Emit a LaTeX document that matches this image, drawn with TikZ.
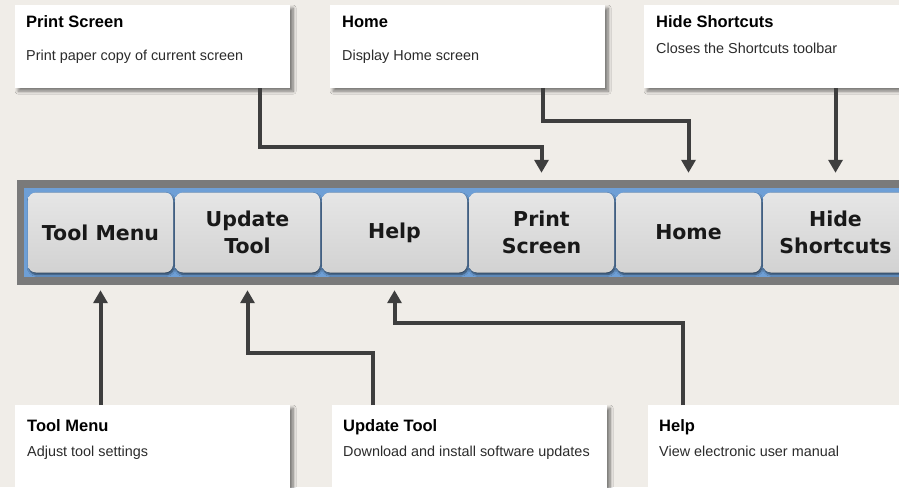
\documentclass[tikz,border=0pt]{standalone}
\usepackage{fontspec}
\setmainfont{Liberation Sans}
\newfontfamily\btnfont{DejaVu Sans}
\usetikzlibrary{arrows.meta,shadows.blur,calc}
\definecolor{bg}{HTML}{F0EDE8}
\definecolor{arrowc}{HTML}{3E3E3E}
\definecolor{barc}{HTML}{7A7A7A}
\definecolor{barblue}{HTML}{6E9FD6}
\definecolor{btntop}{HTML}{E6E6E6}
\definecolor{btnbot}{HTML}{D2D2D2}
\definecolor{bodyc}{HTML}{2B2B2B}
\tikzset{
  infobox/.style={draw=none, fill=white, minimum width=275pt, minimum height=83pt,
    anchor=north west, inner sep=0pt,
    blur shadow={shadow xshift=3pt, shadow yshift=-3pt, shadow blur radius=3pt, shadow blur steps=12, shadow opacity=50}},
  lowbox/.style={infobox, minimum height=100pt},
  boxtitle/.style={anchor=base west, inner sep=0pt, font=\fontsize{16.5}{18}\selectfont\bfseries, text=black},
  boxbody/.style={anchor=base west, inner sep=0pt, font=\fontsize{14.4}{16}\selectfont, text=bodyc},
  toolbar/.style={draw=none, fill=barc, minimum width=893pt, minimum height=105pt, inner sep=0pt},
  barinner/.style={draw=none, fill=barblue, minimum width=886pt, minimum height=89pt, inner sep=0pt},
  btn/.style={draw=none, top color=btntop, bottom color=btnbot, rounded corners=8pt,
    minimum width=145pt, minimum height=80pt, inner sep=0pt, align=center,
    font=\btnfont\bfseries\fontsize{20.5}{27}\selectfont, text=black!90,
    blur shadow={shadow xshift=1pt, shadow yshift=-2pt, shadow blur radius=2pt, shadow blur steps=8, shadow opacity=60}},
  conn/.style={draw=arrowc, line width=4pt, -{Triangle[width=14pt,length=13pt]}},
}
\begin{document}
\begin{tikzpicture}[x=1pt,y=-1pt]
  \fill[bg] (0,0) rectangle (899,487);
  \useasboundingbox (0,0) rectangle (899,487);
  \clip (0,0) rectangle (899,487);

  % top info boxes
  \node[infobox] (boxPS) at (15,5) {};
  \node[boxtitle] (tPS) at (26,28) {Print Screen};
  \node[boxbody] (dPS) at (26,61) {Print paper copy of current screen};

  \node[infobox] (boxHO) at (330,5) {};
  \node[boxtitle] (tHO) at (342,28) {Home};
  \node[boxbody] (dHO) at (342,61) {Display Home screen};

  \node[infobox] (boxHS) at (644,5) {};
  \node[boxtitle] (tHS) at (656,28) {Hide Shortcuts};
  \node[boxbody] (dHS) at (656,54) {Closes the Shortcuts toolbar};

  % bottom info boxes
  \node[lowbox] (boxTM) at (15,405) {};
  \node[boxtitle] (tTM) at (27,431) {Tool Menu};
  \node[boxbody] (dTM) at (27,456) {Adjust tool settings};

  \node[lowbox] (boxUT) at (332,405) {};
  \node[boxtitle] (tUT) at (343,431) {Update Tool};
  \node[boxbody] (dUT) at (343,456) {Download and install software updates};

  \node[lowbox] (boxHE) at (648,405) {};
  \node[boxtitle] (tHE) at (659,431) {Help};
  \node[boxbody] (dHE) at (659,456) {View electronic user manual};

  % toolbar
  \node[toolbar] (bar) at (463.5,232.5) {};
  \node[barinner] (inner) at (467,232.5) {};

  \node[btn] (bTM) at (100.5,232.5) {Tool Menu};
  \node[btn] (bUT) at (247.5,232.5) {Update\\Tool};
  \node[btn] (bHE) at (394.5,232.5) {Help};
  \node[btn] (bPS) at (541.5,232.5) {Print\\Screen};
  \node[btn] (bHO) at (688.5,232.5) {Home};
  \node[btn] (bHS) at (835.5,232.5) {Hide\\Shortcuts};

  % arrow tips
  \coordinate (tipPS) at ($(bPS.center |- bar.north)+(0,-7)$);
  \coordinate (tipHO) at ($(bHO.center |- bar.north)+(0,-7)$);
  \coordinate (tipHS) at ($(bHS.center |- bar.north)+(0,-7)$);
  \coordinate (tipTM) at ($(bTM.center |- bar.south)+(0,5)$);
  \coordinate (tipUT) at ($(bUT.center |- bar.south)+(0,5)$);
  \coordinate (tipHE) at ($(bHE.center |- bar.south)+(0,5)$);

  % connectors from top boxes
  \draw[conn] (boxPS.south -| 260,0) |- (tipPS |- 0,147) -- (tipPS);
  \draw[conn] (boxHO.south -| 543,0) |- (tipHO |- 0,121) -- (tipHO);
  \draw[conn] (boxHS.south -| tipHS) -- (tipHS);

  % connectors from bottom boxes
  \draw[conn] (boxTM.north -| tipTM) -- (tipTM);
  \draw[conn] (boxUT.north -| 373,0) |- (tipUT |- 0,353) -- (tipUT);
  \draw[conn] (boxHE.north -| 683,0) |- (tipHE |- 0,323) -- (tipHE);
\end{tikzpicture}
\end{document}
